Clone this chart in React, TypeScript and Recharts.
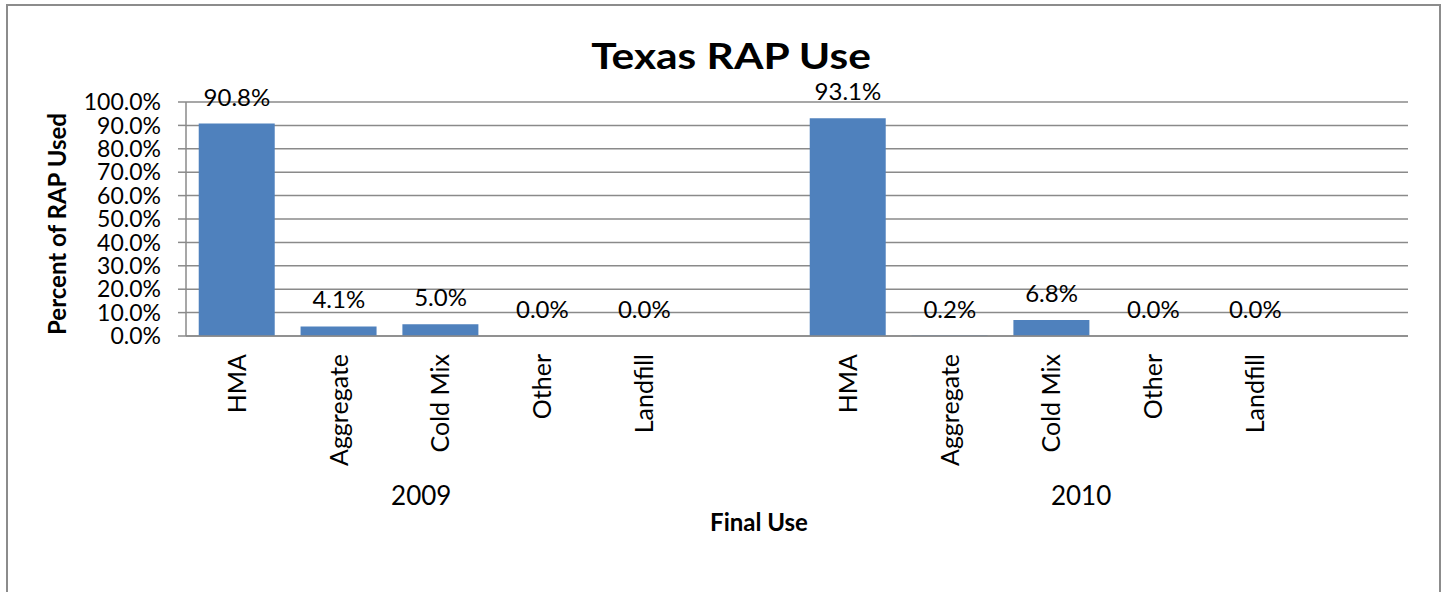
import { ComposedChart, Bar, Line, XAxis, YAxis, CartesianGrid, LabelList } from "recharts";

const years = ["2009", "2010"];
const uses = ["HMA", "Aggregate", "Cold Mix", "Other", "Landfill"];
const share2009 = [90.8, 4.1, 5.0, 0.0, 0.0];
const share2010 = [93.1, 0.2, 6.8, 0.0, 0.0];
const yTicks = [0, 10, 20, 30, 40, 50, 60, 70, 80, 90, 100];

// one blank slot after each year, as in the sheet
const rows = [
  ...uses.map((u, i) => ({ key: `2009-${u}`, use: u, year: years[0], first: i === 0, value: share2009[i] })),
  { key: "2009-gap", use: "", year: years[0], first: false, value: null },
  ...uses.map((u, i) => ({ key: `2010-${u}`, use: u, year: years[1], first: i === 0, value: share2010[i] })),
  { key: "2010-gap", use: "", year: years[1], first: false, value: null },
];

const W = 1445;
const H = 592;
const PLOT_LEFT = 186;
const PLOT_RIGHT = 37;
const BAND = (W - PLOT_LEFT - PLOT_RIGHT) / rows.length;
const YEAR_SHIFT: Record<string, number> = { "2009": 1.81, "2010": 2.29 };
const FONT = "Lato, 'Liberation Sans', sans-serif";
const GRID = "#8a8a8a";

const pct = (v: any) => (v === null || v === undefined ? "" : `${Number(v).toFixed(1)}%`);

function CategoryTick(props: any) {
  const { x, y, payload, index } = props;
  const row = rows[index] || rows.find((r) => r.key === payload.value);
  if (!row) return null;
  return (
    <g>
      {row.use && (
        <text
          x={x}
          y={y + 10}
          transform={`rotate(-90, ${x}, ${y + 10})`}
          textAnchor="end"
          dy="0.35em"
          fontSize={25}
          fontFamily={FONT}
          fill="#000"
        >
          {row.use}
        </text>
      )}
      {row.first && (
        <text
          x={x + YEAR_SHIFT[row.year] * BAND}
          y={y + 152}
          textAnchor="middle"
          dy="0.35em"
          fontSize={26}
          fontFamily={FONT}
          fill="#000"
        >
          {row.year}
        </text>
      )}
    </g>
  );
}

export default function App() {
  return (
    <div style={{ position: "absolute", left: 0, top: 0, width: W, height: H, background: "#fff", overflow: "hidden" }}>
      <div
        style={{
          position: "absolute",
          left: 6,
          top: 4,
          width: 1431,
          height: 620,
          border: "2px solid #8c8c8c",
        }}
      />
      <div
        style={{
          position: "absolute",
          left: 731 - 200,
          width: 400,
          top: 33,
          textAlign: "center",
          fontFamily: FONT,
          fontWeight: 700,
          fontSize: 36,
          lineHeight: "44px",
          transform: "scaleX(1.18)",
        }}
      >
        Texas RAP Use
      </div>
      <div
        style={{
          position: "absolute",
          left: 57 - 150,
          top: 224 - 15,
          width: 300,
          height: 30,
          lineHeight: "30px",
          textAlign: "center",
          transform: "rotate(-90deg)",
          fontFamily: FONT,
          fontWeight: 700,
          fontSize: 24,
        }}
      >
        Percent of RAP Used
      </div>
      <div
        style={{
          position: "absolute",
          left: 759 - 100,
          width: 200,
          top: 522 - 15,
          lineHeight: "30px",
          textAlign: "center",
          fontFamily: FONT,
          fontWeight: 700,
          fontSize: 24,
        }}
      >
        Final Use
      </div>
      <ComposedChart
        width={W}
        height={H}
        data={rows}
        margin={{ top: 102, right: PLOT_RIGHT, left: 0, bottom: 0 }}
        barCategoryGap="12.5%"
        style={{ position: "absolute", left: 0, top: 0 }}
      >
        <CartesianGrid vertical={false} stroke={GRID} strokeWidth={1.5} />
        <XAxis
          dataKey="key"
          height={256}
          interval={0}
          tickLine={false}
          axisLine={{ stroke: GRID, strokeWidth: 1.5 }}
          tick={<CategoryTick />}
        />
        <YAxis
          width={PLOT_LEFT}
          domain={[0, 100]}
          ticks={yTicks}
          interval={0}
          tickSize={8}
          tickMargin={17}
          tickLine={{ stroke: GRID, strokeWidth: 1.5 }}
          axisLine={{ stroke: GRID, strokeWidth: 1.5 }}
          tickFormatter={(v: number) => `${v.toFixed(1)}%`}
          tick={{ fill: "#000", fontSize: 23, fontFamily: FONT }}
        />
        <Bar dataKey="value" fill="#4f81bd" isAnimationActive={false} />
        {/* invisible series that carries the value labels, so 0.0% shows too */}
        <Line
          dataKey="value"
          stroke="none"
          dot={false}
          activeDot={false}
          connectNulls={false}
          isAnimationActive={false}
        >
          <LabelList
            dataKey="value"
            position="top"
            offset={18}
            fill="#000"
            fontSize={24}
            fontFamily={FONT}
            formatter={pct}
          />
        </Line>
      </ComposedChart>
    </div>
  );
}
